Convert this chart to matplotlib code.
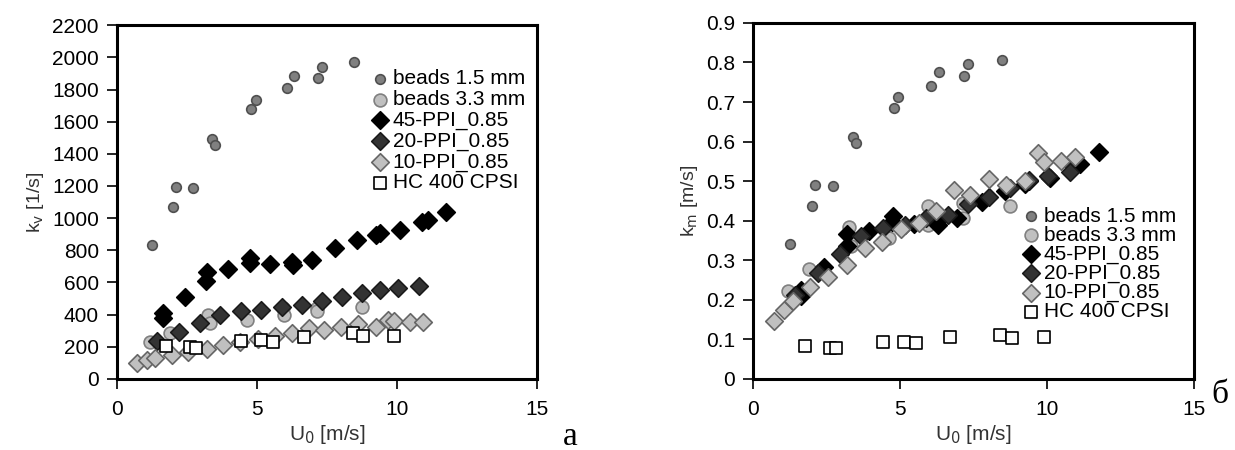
import numpy as np
import matplotlib.pyplot as plt

plt.rcParams['font.family'] = ['Liberation Sans', 'DejaVu Sans']

# beads 1.5 mm
b15_u = [1.25, 2.0, 2.12, 2.71, 3.4, 3.49, 4.8, 4.95, 6.07, 6.32, 7.18, 7.31, 8.48]
b15_kv = [833, 1067, 1191, 1189, 1491, 1454, 1676, 1736, 1807, 1885, 1871, 1941, 1970]
b15_km = [0.341, 0.438, 0.490, 0.488, 0.611, 0.596, 0.686, 0.713, 0.740, 0.775, 0.767, 0.795, 0.806]

# beads 3.3 mm
b33_u = [1.18, 1.9, 3.26, 3.32, 4.63, 5.94, 5.97, 7.13, 7.15, 8.74]
b33_kv = [230, 284, 395, 346, 367, 439, 400, 439, 420, 450]
b33_km = [0.223, 0.278, 0.383, 0.336, 0.356, 0.436, 0.388, 0.444, 0.408, 0.437]

# 45-PPI_0.85
p45_u = [1.65, 1.65, 2.42, 3.19, 3.21, 3.95, 4.74, 4.76, 5.48, 6.25, 6.3, 6.95,
         7.79, 8.56, 9.27, 9.39, 10.1, 10.88, 11.12, 11.77]
p45_kv = [410, 380, 512, 609, 667, 682, 719, 750, 713, 729, 708, 740,
          812, 864, 895, 909, 926, 978, 988, 1040]
p45_km = [0.226, 0.209, 0.282, 0.335, 0.367, 0.375, 0.396, 0.413, 0.392, 0.40, 0.390, 0.407,
          0.447, 0.475, 0.492, 0.50, 0.509, 0.538, 0.543, 0.573]

# 20-PPI_0.85
p20_u = [1.42, 2.22, 2.96, 3.68, 4.44, 5.16, 5.9, 6.62, 7.33, 8.03, 8.74, 9.39, 10.05, 10.8]
p20_kv = [235, 294, 350, 398, 420, 429, 448, 457, 486, 512, 533, 553, 564, 578]
p20_km = [0.213, 0.267, 0.317, 0.361, 0.381, 0.389, 0.406, 0.414, 0.441, 0.461,
          0.483, 0.502, 0.512, 0.524]

# 10-PPI_0.85
p10_u = [0.72, 1.06, 1.36, 1.95, 2.55, 3.2, 3.8, 4.4, 5.05, 5.64, 6.24, 6.85,
         7.4, 8.02, 8.6, 9.25, 9.7, 9.9, 10.48, 10.94]
p10_kv = [97, 115, 128, 149, 165, 185, 211, 232, 250, 268, 284, 318,
          305, 325, 340, 320, 367, 360, 352, 356]
p10_km = [0.147, 0.175, 0.197, 0.232, 0.258, 0.288, 0.33, 0.345, 0.38, 0.395, 0.425, 0.478,
          0.466, 0.505, 0.49, 0.50, 0.57, 0.549, 0.55, 0.562]

# HC 400 CPSI
hc_u = [1.76, 2.62, 2.83, 4.44, 5.14, 5.56, 6.69, 8.42, 8.8, 9.9]
hc_kv = [205, 197, 195, 236, 242, 232, 263, 284, 267, 269]
hc_km = [0.082, 0.079, 0.078, 0.094, 0.094, 0.090, 0.105, 0.111, 0.103, 0.107]

labels = ['beads 1.5 mm', 'beads 3.3 mm', '45-PPI_0.85', '20-PPI_0.85', '10-PPI_0.85', 'HC 400 CPSI']
styles = [
    dict(marker='o', s=48, facecolor='#808080', edgecolor='#505050'),
    dict(marker='o', s=85, facecolor='#c0c0c0', edgecolor='#808080'),
    dict(marker='D', s=80, facecolor='#000000', edgecolor='#000000'),
    dict(marker='D', s=80, facecolor='#333333', edgecolor='#1a1a1a'),
    dict(marker='D', s=80, facecolor='#c0c0c0', edgecolor='#666666'),
    dict(marker='s', s=85, facecolor='#ffffff', edgecolor='#000000'),
]

fig = plt.figure(figsize=(12.35, 4.5), dpi=100)
ax1 = fig.add_axes([0.0947, 0.158, 0.340, 0.786])
ax2 = fig.add_axes([0.6097, 0.158, 0.357, 0.791])

data1 = [(b15_u, b15_kv), (b33_u, b33_kv), (p45_u, p45_kv), (p20_u, p20_kv), (p10_u, p10_kv), (hc_u, hc_kv)]
data2 = [(b15_u, b15_km), (b33_u, b33_km), (p45_u, p45_km), (p20_u, p20_km), (p10_u, p10_km), (hc_u, hc_km)]

for ax, data in [(ax1, data1), (ax2, data2)]:
    for (u, k), lab, st in zip(data, labels, styles):
        ax.scatter(u, k, label=lab, linewidths=1.2, **st)
    ax.set_xlim(0, 15)
    ax.set_xticks([0, 5, 10, 15])
    for sp in ax.spines.values():
        sp.set_linewidth(2.2)
    ax.tick_params(direction='out', length=7, width=1.2, labelsize=15, top=False, right=False)
    ax.tick_params(axis='x', pad=8)
    ax.tick_params(axis='y', pad=6)
    ax.set_xlabel(r'U$_\mathrm{0}$ [m/s]', fontsize=15, labelpad=3, color='#333333')

ax1.set_ylim(0, 2200)
ax1.set_yticks(np.arange(0, 2201, 200))
ax1.set_ylabel(r'k$_\mathrm{v}$ [1/s]', fontsize=14, labelpad=4, color='#333333')

ax2.set_ylim(0, 0.9)
ax2.set_yticks(np.arange(0, 0.91, 0.1))
ax2.set_yticklabels(['0'] + ['%.1f' % v for v in np.arange(0.1, 0.91, 0.1)])
ax2.set_ylabel(r'k$_\mathrm{m}$ [m/s]', fontsize=14, labelpad=4, color='#333333')

leg_kw = dict(frameon=False, fontsize=15, handlelength=0.8, handletextpad=0.2,
              borderpad=0, borderaxespad=0, scatterpoints=1, loc='upper left')
ax1.legend(bbox_to_anchor=(0.607, 0.875), labelspacing=0.08, **leg_kw)
ax2.legend(bbox_to_anchor=(0.612, 0.484), labelspacing=0.0, **leg_kw)

fig.text(0.462, 0.03, 'а', fontsize=24, family='Liberation Serif', ha='center', va='center')
fig.text(0.988, 0.123, 'б', fontsize=24, family='Liberation Serif', ha='center', va='center')

fig.savefig('out.png', dpi=100)
